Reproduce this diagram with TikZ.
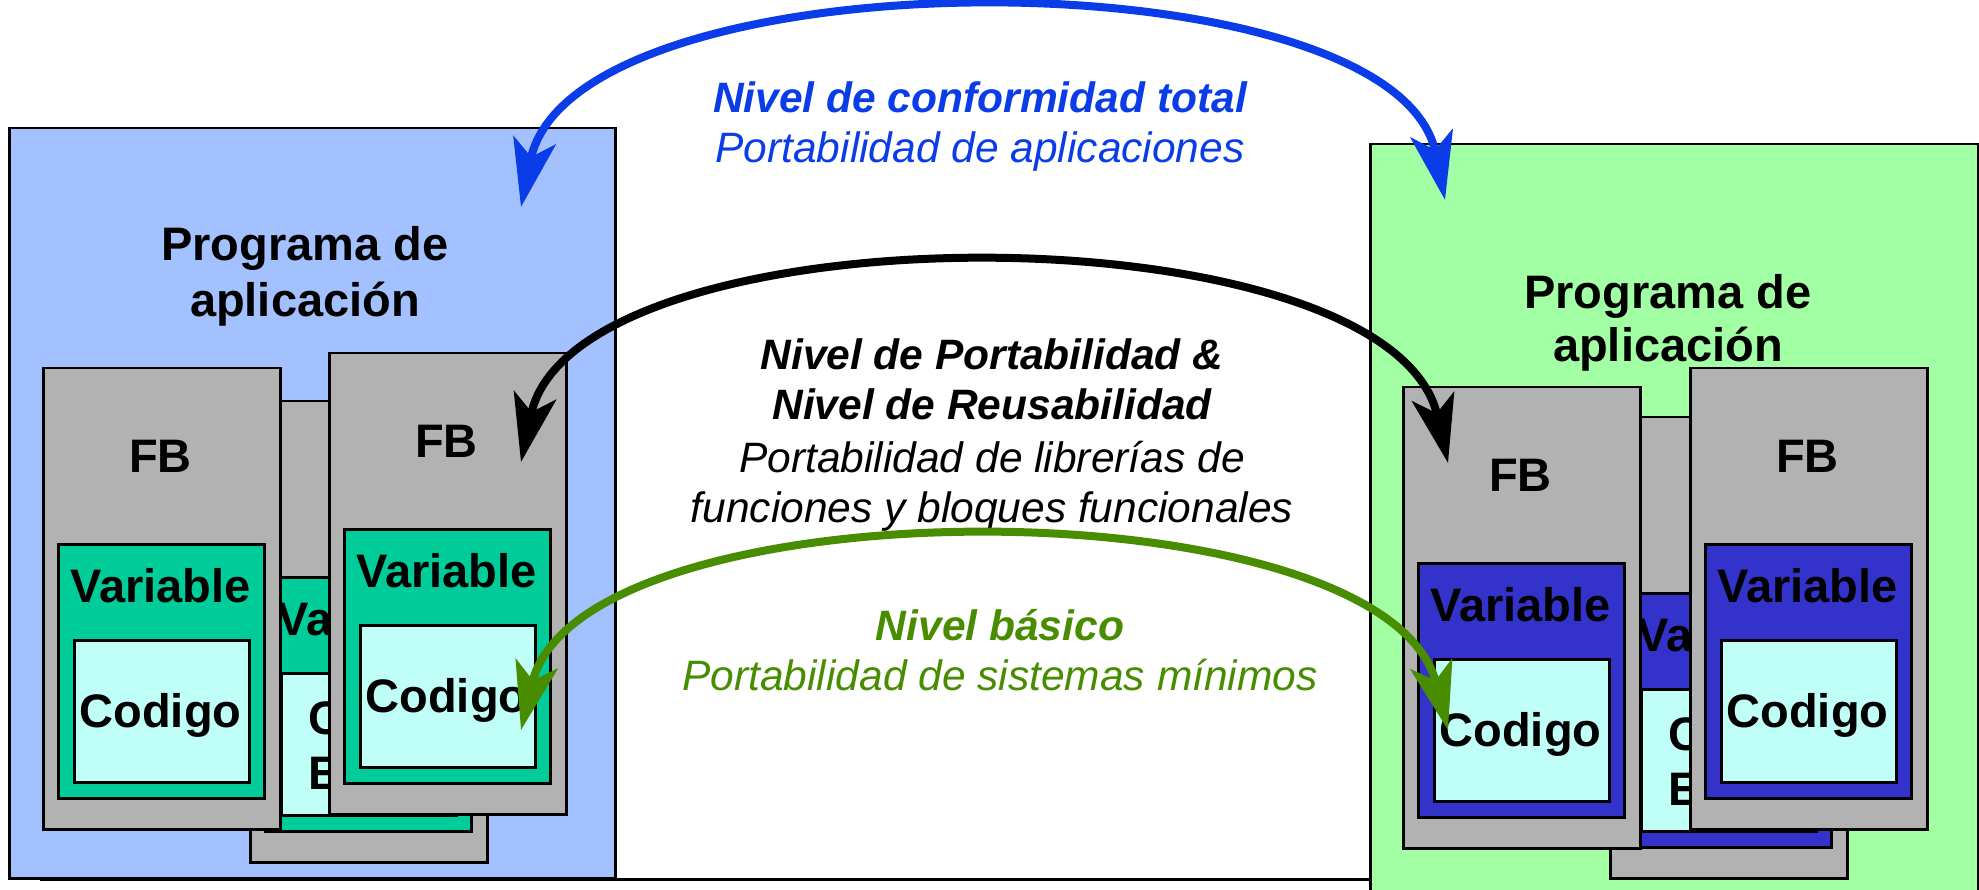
\documentclass[tikz,border=0pt]{standalone}
\usepackage{fontspec}
\setmainfont{Liberation Sans}
\usetikzlibrary{arrows.meta}

\definecolor{progblue}{RGB}{163,193,255}
\definecolor{proggreen}{RGB}{163,255,163}
\definecolor{fbgray}{RGB}{178,178,178}
\definecolor{varteal}{RGB}{0,204,153}
\definecolor{varblue}{RGB}{51,51,204}
\definecolor{codecyan}{RGB}{192,255,248}
\definecolor{levelblue}{RGB}{10,60,232}
\definecolor{levelgreen}{RGB}{72,140,0}

\tikzset{
  prog/.style={draw, line width=2.5pt, anchor=north west, inner sep=0pt},
  fbbox/.style={draw, line width=2.5pt, fill=fbgray, anchor=north west, inner sep=0pt, minimum width=237pt, minimum height=461pt},
  varbox/.style={draw, line width=2.5pt, anchor=north west, inner sep=0pt, minimum width=206pt, minimum height=254pt},
  codbox/.style={draw, line width=2.5pt, fill=codecyan, anchor=north west, inner sep=0pt, minimum width=175pt, minimum height=142pt},
  lbl/.style={font=\fontsize{47}{55}\selectfont\bfseries, inner sep=0pt, anchor=base},
  lvl/.style={font=\fontsize{42.5}{51}\selectfont\itshape, inner sep=0pt, anchor=base},
  lvlb/.style={font=\fontsize{42.5}{51}\selectfont\bfseries\itshape, inner sep=0pt, anchor=base},
  level/.style={line width=8pt, {Stealth[length=68pt,width=43pt,inset=17pt]}-{Stealth[length=68pt,width=43pt,inset=17pt]}},
}

% one FB with its Variable and Codigo boxes
\newcommand{\fbstack}[4]{%
  \node[fbbox] (#1) at (#2,#3) {};
  \node[varbox, fill=#4] (#1 var) at (#2+15,#3+176) {};
  \node[codbox] (#1 cod) at (#2+31,#3+272) {};
  \node[lbl] (#1 fb) at (#2+118.5,#3+105) {FB};
  \node[lbl] (#1 vt) at (#2+118.5,#3+235) {Variable};
}

\begin{document}
\begin{tikzpicture}[x=1pt,y=-1pt]
  \useasboundingbox (0,0) rectangle (1979,890);

  % the two application programs
  \node[prog, fill=progblue, minimum width=606pt, minimum height=750pt] (lprog) at (8,127) {};
  \coordinate (base) at (40,879);
  \node[prog, fill=proggreen, minimum width=608pt, minimum height=762pt] (rprog) at (1369,143) {};
  \draw[line width=3pt] (base) -- (base -| rprog.west);

  \node[lbl] (ltitle) at (305,261) {Programa de};
  \node[lbl] (ltitleb) at (305,317) {aplicación};
  \node[lbl] (rtitle) at (1668,309) {Programa de};
  \node[lbl] (rtitleb) at (1668,362) {aplicación};

  % FB stacks, back ones first
  \foreach \n/\x/\y/\c in {lm/249/400/varteal, rm/1609/416/varblue} {
    \fbstack{\n}{\x}{\y}{\c}
    \node[lbl, anchor=base west] (\n code) at (\x+59,\y+334) {Codigo};
    \node[lbl, anchor=base west] (\n codeb) at (\x+59,\y+389) {E};
  }
  \foreach \n/\x/\y/\c in {lf/42/367/varteal, lr/328/352/varteal, rf/1402/386/varblue, rr/1689/367/varblue} {
    \fbstack{\n}{\x}{\y}{\c}
    \node[lbl] (\n code) at (\x+118.5,\y+360) {Codigo};
  }

  % levels
  \node[lvlb, text=levelblue] (total) at (980,113) {Nivel de conformidad total};
  \node[lvl, text=levelblue] (totalb) at (980,163) {Portabilidad de aplicaciones};
  \node[lvlb] (reuse) at (992,370) {Nivel de Portabilidad \&};
  \node[lvlb] (reuseb) at (992,420) {Nivel de Reusabilidad};
  \node[lvl] (reusec) at (992,472) {Portabilidad de librerías de};
  \node[lvl] (reused) at (992,522) {funciones y bloques funcionales};
  \node[lvlb, text=levelgreen] (basic) at (1000,640) {Nivel básico};
  \node[lvl, text=levelgreen] (basicb) at (1000,690) {Portabilidad de sistemas mínimos};

  \coordinate (blueL) at (521,207);
  \coordinate (blueR) at (1445,200);
  \coordinate (blackL) at (521,462);
  \coordinate (blackR) at (1448,463);
  \coordinate (greenL) at (521,730);
  \coordinate (greenR) at (1448,730);
  \draw[level, levelblue] (blueL) .. controls (573,-49) and (1395,-49) .. (blueR);
  \draw[level] (blackL) .. controls (575,205) and (1390,205) .. (blackR);
  \draw[level, levelgreen] (greenL) .. controls (580,481) and (1385,481) .. (greenR);
\end{tikzpicture}
\end{document}
